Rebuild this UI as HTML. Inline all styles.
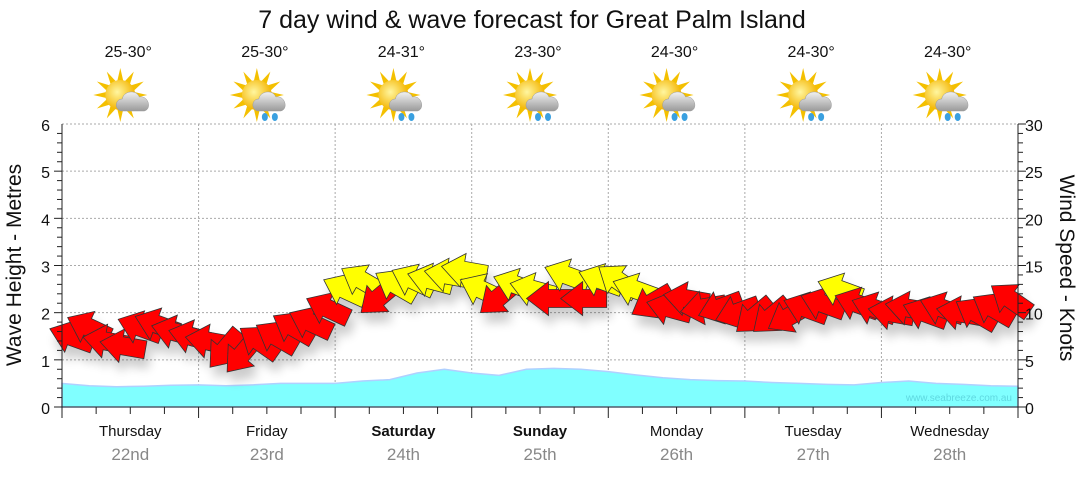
<!DOCTYPE html>
<html><head><meta charset="utf-8"><style>
body{margin:0;background:#fff;width:1080px;height:475px;overflow:hidden;font-family:"Liberation Sans","DejaVu Sans",sans-serif}
</style></head><body>
<svg id="chart" width="1080" height="475" xmlns="http://www.w3.org/2000/svg" font-family="Liberation Sans, DejaVu Sans, sans-serif">
<defs>
<filter id="sh" x="-50%" y="-50%" width="200%" height="250%"><feGaussianBlur in="SourceAlpha" stdDeviation="5"/><feOffset dx="4" dy="10"/><feComponentTransfer><feFuncA type="linear" slope="0.2"/></feComponentTransfer><feMerge><feMergeNode/><feMergeNode in="SourceGraphic"/></feMerge></filter>
<radialGradient id="sun" cx="0.4" cy="0.4" r="0.6"><stop offset="0" stop-color="#fff6a0"/><stop offset="1" stop-color="#f4b400"/></radialGradient>
<linearGradient id="cloud" x1="0" y1="0" x2="0" y2="1"><stop offset="0" stop-color="#f2f2f2"/><stop offset="1" stop-color="#9a9a9a"/></linearGradient>
</defs>
<text x="532" y="28" font-size="25" text-anchor="middle" fill="#111">7 day wind &amp; wave forecast for Great Palm Island</text>
<g id="grid"></g>
<g id="wave"></g>
<g id="arrows" filter="url(#sh)"></g>
<g id="axes"></g>
<text x="1012" y="401" font-size="10" text-anchor="end" fill="#5fd8e0">www.seabreeze.com.au</text>
<text transform="translate(21,265) rotate(-90)" font-size="21" text-anchor="middle" fill="#111">Wave Height - Metres</text>
<text transform="translate(1060,268) rotate(90)" font-size="21" text-anchor="middle" fill="#111">Wind Speed - Knots</text>
<g id="days"></g>
</svg>
<script>
const dayNames=["Thursday","Friday","Saturday","Sunday","Monday","Tuesday","Wednesday"];
const dayDates=["22nd","23rd","24th","25th","26th","27th","28th"];
const boldDays=[false,false,true,true,false,false,false];
const temps=["25-30°","25-30°","24-31°","23-30°","24-30°","24-30°","24-30°"];
const rain=[false,true,true,true,true,true,true];
const waveTicks=[0,1,2,3,4,5,6];
const windTicks=[0,5,10,15,20,25,30];
const waveHeights=[0.5,0.45,0.43,0.44,0.46,0.47,0.45,0.47,0.5,0.5,0.5,0.55,0.58,0.72,0.8,0.72,0.67,0.8,0.82,0.8,0.75,0.68,0.62,0.58,0.56,0.55,0.52,0.5,0.48,0.47,0.52,0.55,0.5,0.48,0.45,0.44];
const windSpeeds=[7.5,8.5,7,6.5,8.5,8.8,8,7.5, 7,6,5.5,7,7.5,8.5,9,10.5, 12.5,13.5,11.5,13,13.5,13.5,14,14.5, 12.5,11.5,13,12.5,11.5,14,11.5,13.5, 13.5,12.5,11,10.5,11.5,10.5,10.5,10, 9.5,9.5,9.5,10.5,11,12.5,11,10.5, 10,10.5,10,10.5,10,10,10.5,11.5];
const windDirs=[200,205,190,190,200,200,195,195, 190,130,130,215,210,210,205,205, 205,210,140,210,205,195,190,190, 205,140,200,195,180,200,180,200, 215,200,150,195,190,170,160,160, 140,140,150,200,200,200,200,200, 190,190,200,200,190,210,210,215];

const X0=62,X1=1018,Y0=407,Y1=124;
const nDays=7, dw=(X1-X0)/nDays;
const yW=v=>Y0-(v/6)*(Y0-Y1);
const yK=v=>Y0-(v/30)*(Y0-Y1);
const xT=h=>X0+h/24*dw;
const NS="http://www.w3.org/2000/svg";
function el(tag,attrs,parent){const e=document.createElementNS(NS,tag);for(const k in attrs)e.setAttribute(k,attrs[k]);parent.appendChild(e);return e;}
const grid=document.getElementById('grid'),axes=document.getElementById('axes'),days=document.getElementById('days'),wave=document.getElementById('wave'),arrows=document.getElementById('arrows');

waveTicks.forEach(t=>{
  if(t>0){const g=el('line',{x1:X0,x2:X1,y1:yW(t),y2:yW(t),stroke:'#aaa','stroke-dasharray':'2,2'},grid);
  
  }
  const l=el('text',{x:50,y:yW(t)+7,'font-size':16,'text-anchor':'end',fill:'#111'},axes);l.textContent=t;
  
  
});
windTicks.forEach(t=>{
  const l=el('text',{x:1025,y:yK(t)+7,'font-size':16,fill:'#111'},axes);l.textContent=t;
  
  
});
for(let i=1;i<nDays;i++){const g=el('line',{x1:X0+i*dw,x2:X0+i*dw,y1:Y1,y2:Y0,stroke:'#aaa','stroke-dasharray':'2,2'},grid);
  
  }
for(let v=0;v<=6;v+=0.2){const y=yW(v);el('line',{x1:X0,x2:X0-(Math.abs(v-Math.round(v))<0.01?8:5),y1:y,y2:y,stroke:'#222'},axes);}
for(let v=0;v<=30;v+=1){const y=yK(v);el('line',{x1:X1,x2:X1+(v%5==0?8:5),y1:y,y2:y,stroke:'#222'},axes);}
el('line',{x1:X0,x2:X0,y1:Y1,y2:Y0,stroke:'#222'},axes);
el('line',{x1:X1,x2:X1,y1:Y1,y2:Y0,stroke:'#222'},axes);
el('line',{x1:X0,x2:X1,y1:Y0,y2:Y0,stroke:'#222'},axes);
for(let h=0;h<=24*7;h+=6){const x=xT(h);el('line',{x1:x,x2:x,y1:Y0,y2:Y0+(h%24==0?11:7),stroke:'#222'},axes);}

let d=`M${X0},${Y0}`;waveHeights.forEach((v,i)=>{d+=` L${xT(i*168/(waveHeights.length-1))},${yW(v)}`;});d+=` L${X1},${Y0} Z`;
const wa=el('path',{d:d,fill:'#80ffff',stroke:'#b0d0ff','stroke-width':1.5},wave);



const ap="M22,0 L0,-17 L0,-9 L-24,-9 L-24,9 L0,9 L0,17 Z";
windSpeeds.forEach((s,i)=>{
  const x=xT(i*3+1.5),y=yK(s);
  const a=el('path',{d:ap,transform:`translate(${x},${y}) rotate(${windDirs[i]})`,fill:s>=12?'#ffff00':'#ff0000',stroke:'#333','stroke-width':0.8},arrows);
  
  
});

dayNames.forEach((n,i)=>{
  const cx=X0+(i+0.5)*dw;
  const t=el('text',{x:cx,y:436,'font-size':15,'text-anchor':'middle',fill:'#111','font-weight':boldDays[i]?'bold':'normal'},days);t.textContent=n;
  
  
  const t2=el('text',{x:cx,y:460,'font-size':17,'text-anchor':'middle',fill:'#888'},days);t2.textContent=dayDates[i];
  
  
  const t3=el('text',{x:cx-2,y:57,'font-size':16,'text-anchor':'middle',fill:'#111'},days);t3.textContent=temps[i];
  
  
  const g=el('g',{transform:`translate(${cx-4},97)`},days);
  
  
  for(let k=0;k<12;k++){el('path',{d:'M-3,-14 L0,-27 L3,-14 Z',fill:'#f4c000',transform:`translate(-6,-2) rotate(${k*30})`},g);}
  el('circle',{cx:-6,cy:-2,r:15,fill:'url(#sun)'},g);
  el('path',{d:'M-4,14 C-12,14 -12,2 -4,2 C-3,-6 10,-8 13,0 C22,-2 26,12 18,14 Z',fill:'url(#cloud)',stroke:'#999','stroke-width':0.5},g);
  if(rain[i]){[2,12].forEach(dx=>el('ellipse',{cx:dx,cy:20,rx:3,ry:4,fill:'#3aa0e0'},g));}
});
</script>
</body></html>
